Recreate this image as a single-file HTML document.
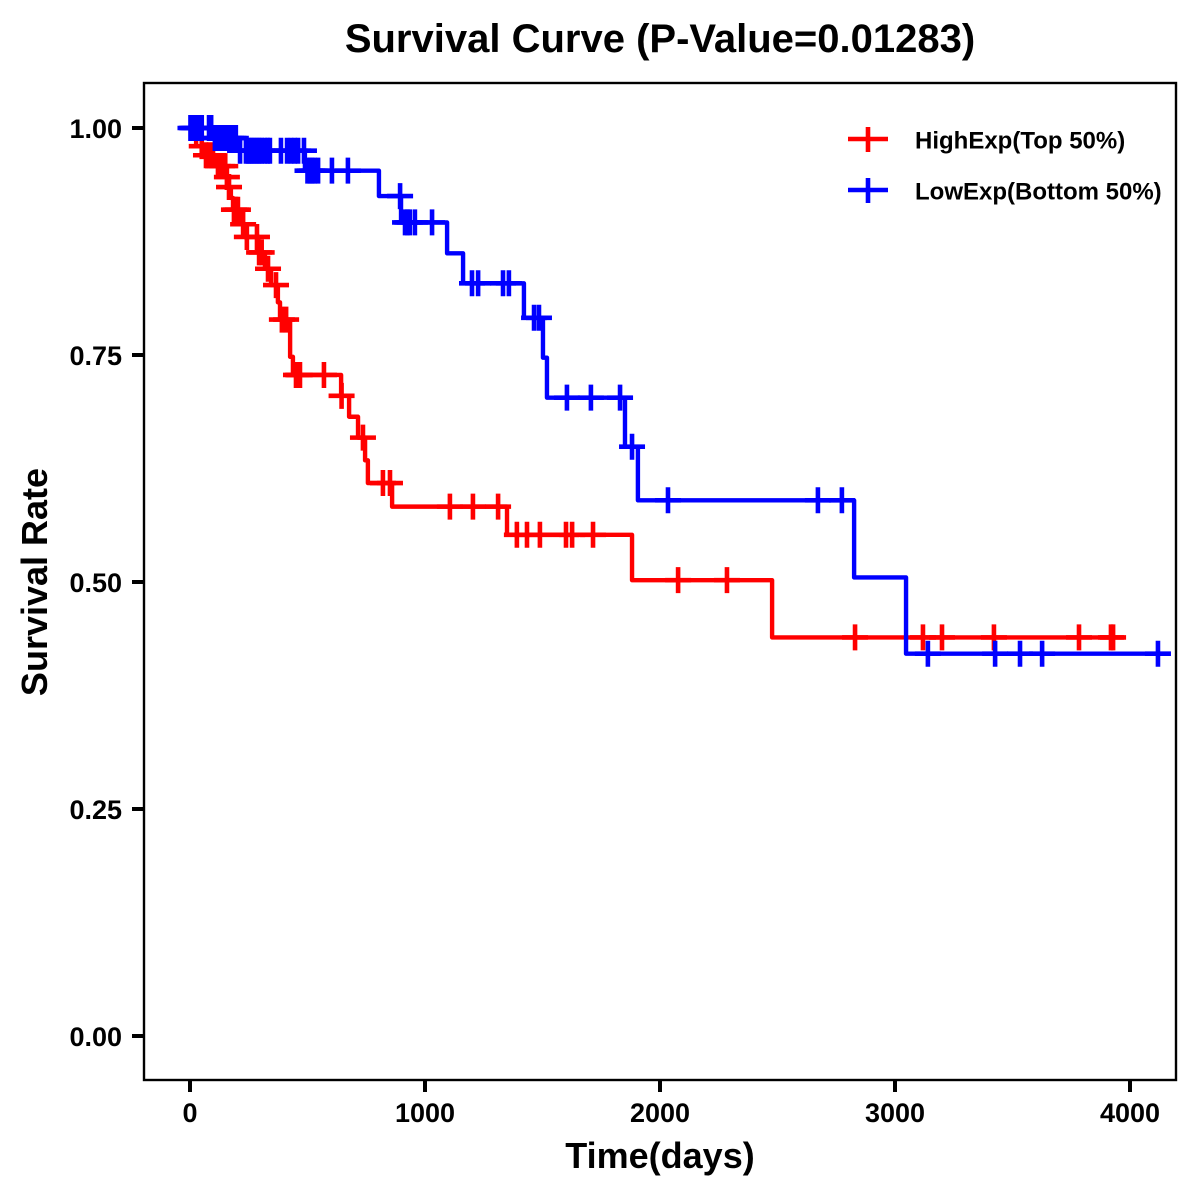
<!DOCTYPE html>
<html>
<head>
<meta charset="utf-8">
<title>Survival Curve</title>
<style>
html,body{margin:0;padding:0;background:#fff;}
svg{display:block;}
text{font-family:"Liberation Sans",Arial,sans-serif;font-weight:bold;fill:#000;}
</style>
</head>
<body>
<svg id="chart" width="1200" height="1200" viewBox="0 0 1200 1200" xmlns="http://www.w3.org/2000/svg">
  <rect x="0" y="0" width="1200" height="1200" fill="#fff"/>
  <text x="660" y="52" font-size="40" text-anchor="middle">Survival Curve (P-Value=0.01283)</text>
  <text x="660" y="1168" font-size="36" text-anchor="middle">Time(days)</text>
  <text transform="translate(47,582) rotate(-90)" font-size="36" text-anchor="middle">Survival Rate</text>
  <g id="ticks"></g>
  <g id="series"></g>
  <rect x="144" y="83" width="1032" height="997" fill="none" stroke="#000" stroke-width="2.4"/>
  <g>
    <g>
      <path d="M848 139H888M868 127V152" stroke="#f00" stroke-width="4.6" fill="none"/>
      <text x="915" y="148.500" font-size="24">HighExp(Top 50%)</text>
    </g>
    <g>
      <path d="M848 190H888M868 178V203" stroke="#00f" stroke-width="4.6" fill="none"/>
      <text x="915" y="199.500" font-size="24">LowExp(Bottom 50%)</text>
    </g>
  </g>
</svg>
<script>
const xTicks = [0, 1000, 2000, 3000, 4000];
const yTicks = [0, 0.25, 0.5, 0.75, 1];

const highStepTimes = [26, 55, 106, 153, 162, 174, 183, 213, 238, 290, 319, 345, 374, 383, 426, 438, 643, 677, 715, 745, 757, 860, 1349, 1881, 2477];
const highStepSurvival = [0.980, 0.970, 0.958, 0.946, 0.935, 0.923, 0.910, 0.894, 0.880, 0.863, 0.845, 0.827, 0.808, 0.789, 0.748, 0.728, 0.705, 0.682, 0.659, 0.634, 0.609, 0.583, 0.552, 0.502, 0.439];
const highCensorTimes = [50, 68, 81, 98, 119, 136, 150, 157, 166, 187, 196, 204, 226, 242, 285, 294, 305, 332, 366, 391, 409, 451, 460, 464, 468, 570, 645, 736, 821, 851, 1106, 1204, 1311, 1391, 1434, 1489, 1600, 1626, 1715, 2077, 2285, 2830, 3119, 3200, 3421, 3783, 3919, 3928];

const lowStepTimes = [98, 204, 489, 804, 898, 1094, 1162, 1421, 1502, 1519, 1851, 1906, 2826, 3047];
const lowStepSurvival = [0.989, 0.975, 0.953, 0.925, 0.896, 0.862, 0.829, 0.791, 0.747, 0.703, 0.649, 0.590, 0.505, 0.421];
const lowCensorTimes = [2, 8, 14, 20, 26, 32, 38, 44, 50, 81, 90, 106, 115, 125, 135, 145, 155, 165, 175, 185, 195, 213, 238, 247, 256, 265, 275, 285, 295, 305, 318, 330, 340, 387, 413, 430, 445, 460, 485, 500, 510, 520, 530, 545, 604, 672, 894, 915, 925, 935, 957, 1030, 1200, 1226, 1332, 1357, 1464, 1485, 1604, 1706, 1830, 1881, 2034, 2672, 2774, 3140, 3426, 3532, 3626, 4119];

const NS = 'http://www.w3.org/2000/svg';
function xScale(t) { return 190 + t * 0.235; }
function yScale(s) { return 1036 - s * 908; }

function survivalAt(t, times, vals) {
  let s = 1;
  for (let i = 0; i < times.length; i++) {
    if (t >= times[i]) s = vals[i];
  }
  return s;
}

const tickGroup = document.getElementById('ticks');
xTicks.forEach(function (v) {
  const l = document.createElementNS(NS, 'line');
  
  
  l.setAttribute('x1', xScale(v)); l.setAttribute('x2', xScale(v));
  l.setAttribute('y1', 1080); l.setAttribute('y2', 1092);
  l.setAttribute('stroke', '#000'); l.setAttribute('stroke-width', 4);
  tickGroup.appendChild(l);
  const t = document.createElementNS(NS, 'text');
  
  
  t.setAttribute('x', xScale(v)); t.setAttribute('y', 1122);
  t.setAttribute('font-size', 27); t.setAttribute('text-anchor', 'middle');
  t.textContent = String(v);
  tickGroup.appendChild(t);
});
yTicks.forEach(function (v) {
  const l = document.createElementNS(NS, 'line');
  
  
  l.setAttribute('x1', 132); l.setAttribute('x2', 144);
  l.setAttribute('y1', yScale(v)); l.setAttribute('y2', yScale(v));
  l.setAttribute('stroke', '#000'); l.setAttribute('stroke-width', 4);
  tickGroup.appendChild(l);
  const t = document.createElementNS(NS, 'text');
  
  
  t.setAttribute('x', 122); t.setAttribute('y', yScale(v) + 10);
  t.setAttribute('font-size', 27); t.setAttribute('text-anchor', 'end');
  t.textContent = v.toFixed(2);
  tickGroup.appendChild(t);
});

const seriesGroup = document.getElementById('series');
function drawSeries(times, vals, censors, color, label) {
  const lastT = censors[censors.length - 1];
  let d = 'M' + xScale(0) + ' ' + yScale(1);
  for (let i = 0; i < times.length; i++) {
    d += 'H' + xScale(times[i]) + 'V' + yScale(vals[i]);
  }
  d += 'H' + xScale(lastT);
  const p = document.createElementNS(NS, 'path');
  
  
  p.setAttribute('d', d);
  p.setAttribute('fill', 'none');
  p.setAttribute('stroke', color);
  p.setAttribute('stroke-width', 4.4);
  p.setAttribute('stroke-linejoin', 'round');
  seriesGroup.appendChild(p);
  censors.forEach(function (t) {
    const cx = xScale(t);
    const cy = yScale(survivalAt(t, times, vals));
    const m = document.createElementNS(NS, 'path');
    
    
    m.setAttribute('d', 'M' + (cx - 13) + ' ' + cy + 'H' + (cx + 13) + 'M' + cx + ' ' + (cy - 13) + 'V' + (cy + 13));
    m.setAttribute('fill', 'none');
    m.setAttribute('stroke', color);
    m.setAttribute('stroke-width', 4.6);
    seriesGroup.appendChild(m);
  });
}
drawSeries(highStepTimes, highStepSurvival, highCensorTimes, '#ff0000', 'high-exp');
drawSeries(lowStepTimes, lowStepSurvival, lowCensorTimes, '#0000ff', 'low-exp');
</script>
</body>
</html>
